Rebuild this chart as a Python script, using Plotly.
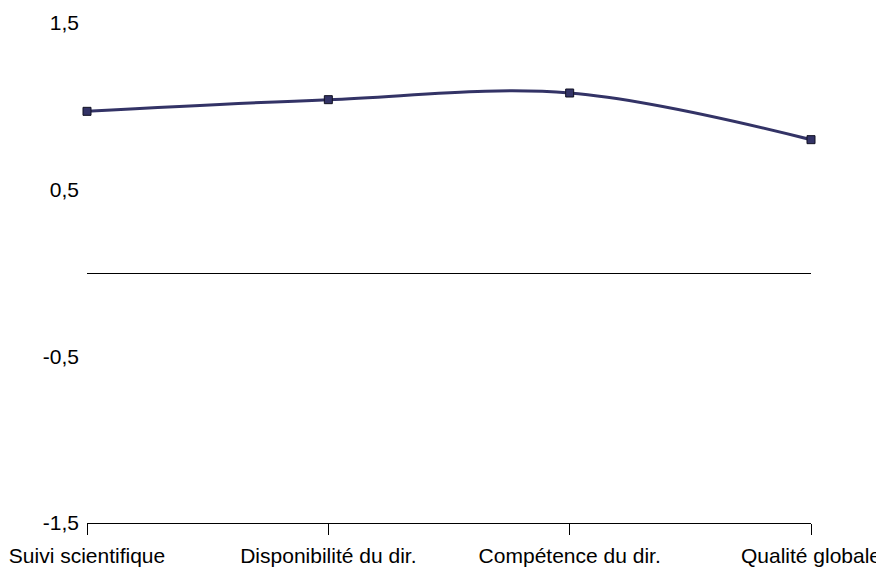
import plotly.graph_objects as go

categories = ["Suivi scientifique", "Disponibilité du dir.", "Compétence du dir.", "Qualité globale"]
values = [0.97, 1.04, 1.08, 0.80]
ytick_vals = [1.5, 0.5, -0.5, -1.5]
ytick_text = ["1,5", "0,5", "-0,5", "-1,5"]

fig = go.Figure()
fig.add_trace(go.Scatter(
    x=list(range(len(categories))), y=values,
    mode="lines+markers",
    line=dict(color="#333366", width=3, shape="spline", smoothing=1),
    marker=dict(symbol="square", size=8, color="#333366", line=dict(color="#111122", width=1)),
    cliponaxis=False,
    showlegend=False,
))

fig.update_layout(
    width=876, height=560,
    margin=dict(l=79, r=73, t=15, b=45),
    paper_bgcolor="white", plot_bgcolor="white",
    font=dict(family="Liberation Sans, Arial", size=21, color="black"),
    xaxis=dict(
        range=[0, 3], tickvals=list(range(len(categories))), ticktext=categories,
        showgrid=False, zeroline=False, showline=True, linecolor="black", linewidth=1,
        ticks="outside", ticklen=11, tickcolor="black", tickwidth=1,
        tickfont=dict(size=21), automargin=False, ticklabelstandoff=3,
    ),
    yaxis=dict(
        range=[-1.5, 1.5], tickvals=ytick_vals, ticktext=ytick_text,
        showgrid=False, zeroline=True, zerolinecolor="black", zerolinewidth=1,
        showline=False, ticks="", tickfont=dict(size=21), automargin=False,
        ticklabelstandoff=7,
    ),
)

fig.write_html("out.html")
